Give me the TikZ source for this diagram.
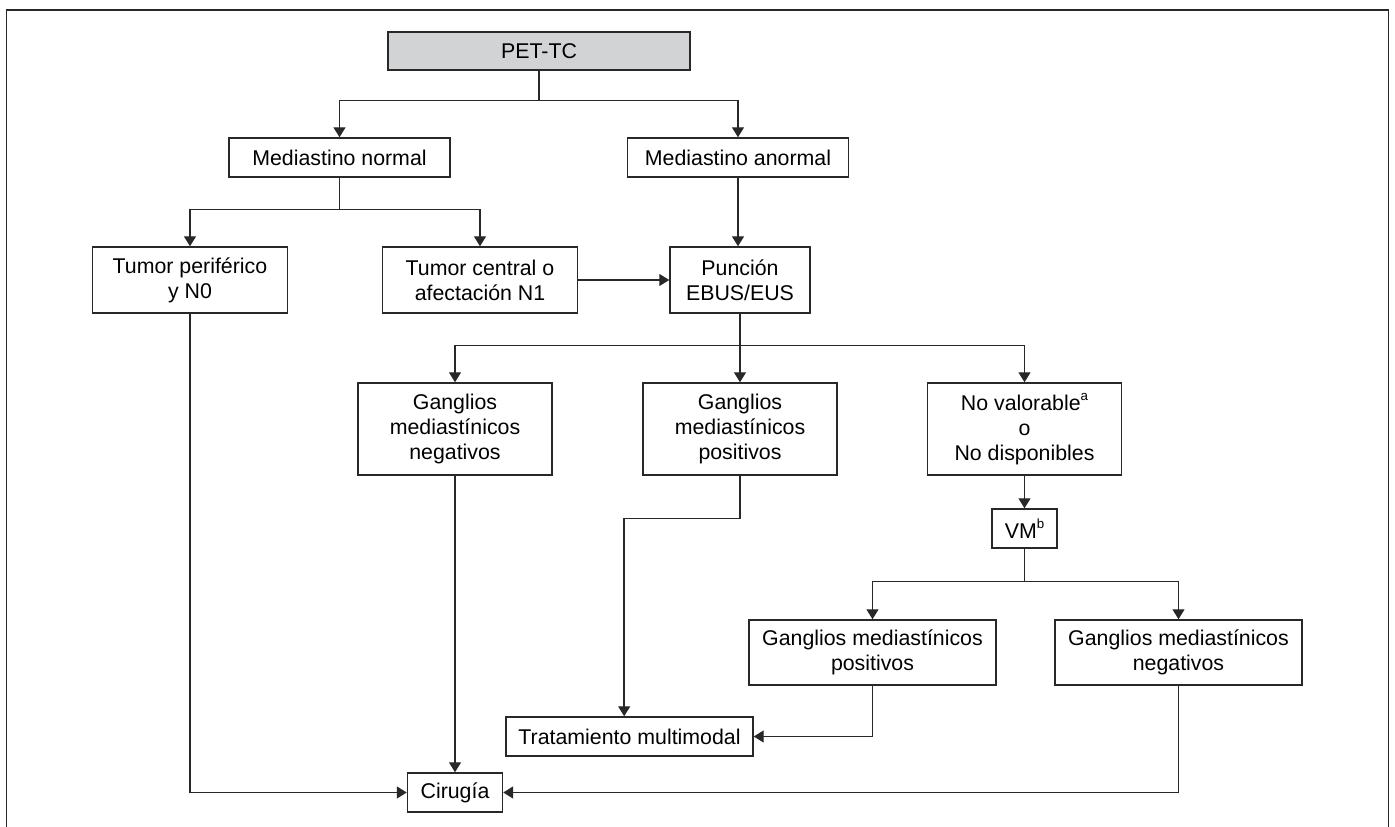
\documentclass[tikz,border=0pt]{standalone}
\usepackage{fontspec}
\setmainfont{Liberation Sans}
\usepackage{tikz}
\usetikzlibrary{shapes.geometric, arrows.meta}
\definecolor{petgray}{RGB}{209,211,212}
\definecolor{ink}{RGB}{40,40,40}
\newcommand{\supnote}[1]{\raisebox{0.45em}{\fontsize{10}{10}\selectfont #1}}
\tikzstyle{box} = [rectangle, draw=ink, line width=1.1pt, text centered, align=center, inner sep=2pt, font=\fontsize{16}{18.75}\selectfont]
\tikzstyle{startbox} = [box, fill=petgray]
\tikzstyle{arrow} = [draw=ink, line width=1.05pt, -{Triangle[length=7.5pt,width=9pt]}]

\begin{document}
\begin{tikzpicture}[x=0.75pt, y=-0.75pt]
	\useasboundingbox (0,0) rectangle (1395,827);
	\draw [ink, line width=1.1pt] (6.5,827) -- (6.5,10) -- (1388.5,10) -- (1388.5,827);

	\node (pet) [startbox, minimum width=226.5pt, minimum height=28.5pt] at (539,51) {PET-TC};
	\node (mnormal) [box, minimum width=165.75pt, minimum height=29.25pt] at (339.5,157.5) {Mediastino normal};
	\node (manormal) [box, minimum width=165.75pt, minimum height=29.25pt] at (738,157.5) {Mediastino anormal};
	\node (tperif) [box, minimum width=146.25pt, minimum height=49.5pt] at (190,280) {Tumor periférico\\y N0};
	\node (tcentral) [box, minimum width=146.25pt, minimum height=49.5pt] at (480,280) {Tumor central o\\afectación N1};
	\node (puncion) [box, minimum width=105pt, minimum height=49.5pt] at (740,280) {Punción\\EBUS/EUS};
	\node (gneg) [box, minimum width=145.5pt, minimum height=69pt] at (455,429) {Ganglios\\mediastínicos\\negativos};
	\node (gpos) [box, minimum width=145.5pt, minimum height=69pt] at (740,429) {Ganglios\\mediastínicos\\positivos};
	\node (nov) [box, minimum width=145.5pt, minimum height=69pt] at (1024.5,429) {No valorable\supnote{a}\\o\\No disponibles};
	\node (vm) [box, minimum width=49pt, minimum height=29.25pt] at (1024.5,528.5) {VM\supnote{b}};
	\node (gpos2) [box, minimum width=185.25pt, minimum height=48.75pt] at (872.5,652.5) {Ganglios mediastínicos\\positivos};
	\node (gneg2) [box, minimum width=185.25pt, minimum height=48.75pt] at (1178.5,652.5) {Ganglios mediastínicos\\negativos};
	\node (trat) [box, minimum width=185.25pt, minimum height=29.25pt] at (629.5,736.5) {Tratamiento multimodal};
	\node (cir) [box, minimum width=71.25pt, minimum height=29.25pt] at (455,792.5) {Cirugía};

	\draw [arrow] (pet.south) -- ++(0,30) -| (mnormal.north);
	\draw [arrow] (pet.south) -- ++(0,30) -| (manormal.north);
	\draw [arrow] (mnormal.south) -- ++(0,32) -| (tperif.north);
	\draw [arrow] (mnormal.south) -- ++(0,32) -| (tcentral.north);
	\draw [arrow] (manormal.south) -- (manormal.south |- puncion.north);
	\draw [arrow] (tcentral.east) -- (puncion.west);
	\draw [arrow] (puncion.south) -- ++(0,32) -| (gneg.north);
	\draw [arrow] (puncion.south) -- (puncion.south |- gpos.north);
	\draw [arrow] (puncion.south) -- ++(0,32) -| (nov.north);
	\draw [arrow] (nov.south) -- (nov.south |- vm.north);
	\draw [arrow] (vm.south) -- ++(0,33) -| (gpos2.north);
	\draw [arrow] (vm.south) -- ++(0,33) -| (gneg2.north);
	\draw [arrow] (tperif.south) |- (cir.west);
	\draw [arrow] (gneg.south) -- (cir.north);
	\draw [arrow] (gpos.south) -- ++(0,43) -| ([xshift=-4pt]trat.north);
	\draw [arrow] (gpos2.south) |- (trat.east);
	\draw [arrow] (gneg2.south) |- (cir.east);
\end{tikzpicture}
\end{document}
